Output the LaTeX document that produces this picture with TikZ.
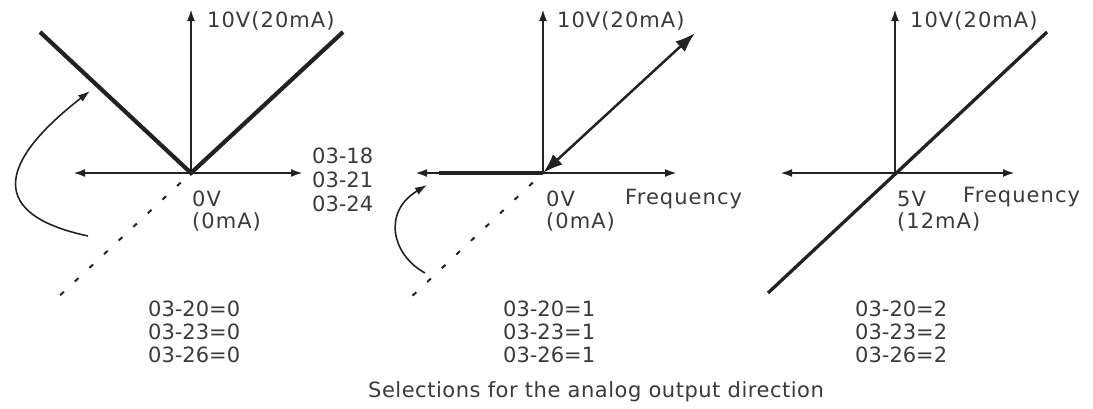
\documentclass[tikz,border=0pt]{standalone}
\usepackage{fontspec}
\setmainfont{DejaVu Sans}
\usetikzlibrary{arrows.meta,positioning}
\definecolor{inkline}{HTML}{222222}
\definecolor{inktext}{HTML}{3A3A3A}

\begin{document}
\begin{tikzpicture}[x=1pt,y=-1pt,>={Latex[length=12pt,width=8pt]},
        axis/.style={draw=inkline,line width=2.2pt},
        curve/.style={draw=inkline,line width=4.2pt},
        back/.style={draw=inkline,line width=1.6pt},
        dots/.style={draw=inkline,line width=2pt,dash pattern=on 5pt off 15pt},
        lbl/.style={text=inktext,font=\fontsize{21}{23}\selectfont,inner sep=0pt,anchor=west,align=left},
        widelbl/.style={lbl,font=\fontsize{21}{22}\selectfont\addfontfeatures{LetterSpace=5}}]
        \useasboundingbox (0,0) rectangle (1093,408);

        \coordinate (o1) at (191,173);
        \coordinate (o1n) at (191,9);
        \coordinate (o1w) at (73,173);
        \coordinate (o1e) at (303,173);
        \coordinate (v1l) at (40,32);
        \coordinate (v1r) at (343,32);
        \coordinate (d1) at (55,300);
        \coordinate (b1s) at (88,236);
        \coordinate (b1e) at (90,91);
        \draw[axis,->] (o1) -- (o1n);
        \draw[axis,<->] (o1w) -- (o1e);
        \draw[curve,line join=miter] (v1l) -- (o1) -- (v1r);
        \draw[dots,shorten <=14pt] (o1) -- (d1);
        \draw[back,->] (b1s) .. controls (-10,215) and (-5,165) .. (b1e);
        \node[widelbl] (ymax1) at (207,21) {10V(20mA)};
        \node[lbl,font=\fontsize{21}{24}\selectfont] (xlab1) at (312,180) {03-18\\03-21\\03-24};
        \node[widelbl] (zero1) at (192,211) {0V\\(0mA)};
        \node[lbl] (set1) at (148,332) {03-20=0\\03-23=0\\03-26=0};

        \coordinate (o2) at (543,173);
        \coordinate (o2n) at (543,9);
        \coordinate (o2w) at (415,173);
        \coordinate (o2e) at (677,173);
        \coordinate (h2) at (439,173);
        \coordinate (u2) at (695,33);
        \coordinate (d2) at (408,300);
        \coordinate (b2s) at (425,273);
        \coordinate (b2e) at (427,185);
        \draw[axis,->] (o2) -- (o2n);
        \draw[axis,<->] (o2w) -- (o2e);
        \draw[curve] (h2) -- (o2);
        \draw[draw=inkline,line width=2.5pt,{Latex[length=20pt,width=14pt]}-{Latex[length=20pt,width=14pt]}] (o2) -- (u2);
        \draw[dots,shorten <=14pt] (o2) -- (d2);
        \draw[back,->] (b2s) .. controls (392,255) and (382,212) .. (b2e);
        \node[widelbl] (ymax2) at (557,21) {10V(20mA)};
        \node[widelbl] (zero2) at (546,211) {0V\\(0mA)};
        \node[widelbl] (freq2) at (625,199) {Frequency};
        \node[lbl] (set2) at (503,332) {03-20=1\\03-23=1\\03-26=1};

        \coordinate (o3) at (895,173);
        \coordinate (o3n) at (895,9);
        \coordinate (o3w) at (780,173);
        \coordinate (o3e) at (1015,173);
        \coordinate (l3a) at (768,293);
        \coordinate (l3b) at (1047,32);
        \draw[axis,->] (o3) -- (o3n);
        \draw[axis,<->] (o3w) -- (o3e);
        \draw[draw=inkline,line width=3.3pt] (l3a) -- (l3b);
        \node[widelbl] (ymax3) at (910,21) {10V(20mA)};
        \node[widelbl] (zero3) at (897,211) {5V\\(12mA)};
        \node[widelbl] (freq3) at (963,197) {Frequency};
        \node[lbl] (set3) at (855,332) {03-20=2\\03-23=2\\03-26=2};

        \node[lbl,anchor=center,font=\fontsize{21}{23}\selectfont\addfontfeatures{LetterSpace=2.5}] (title) at (596,392) {Selections for the analog output direction};
    \end{tikzpicture}
\end{document}
